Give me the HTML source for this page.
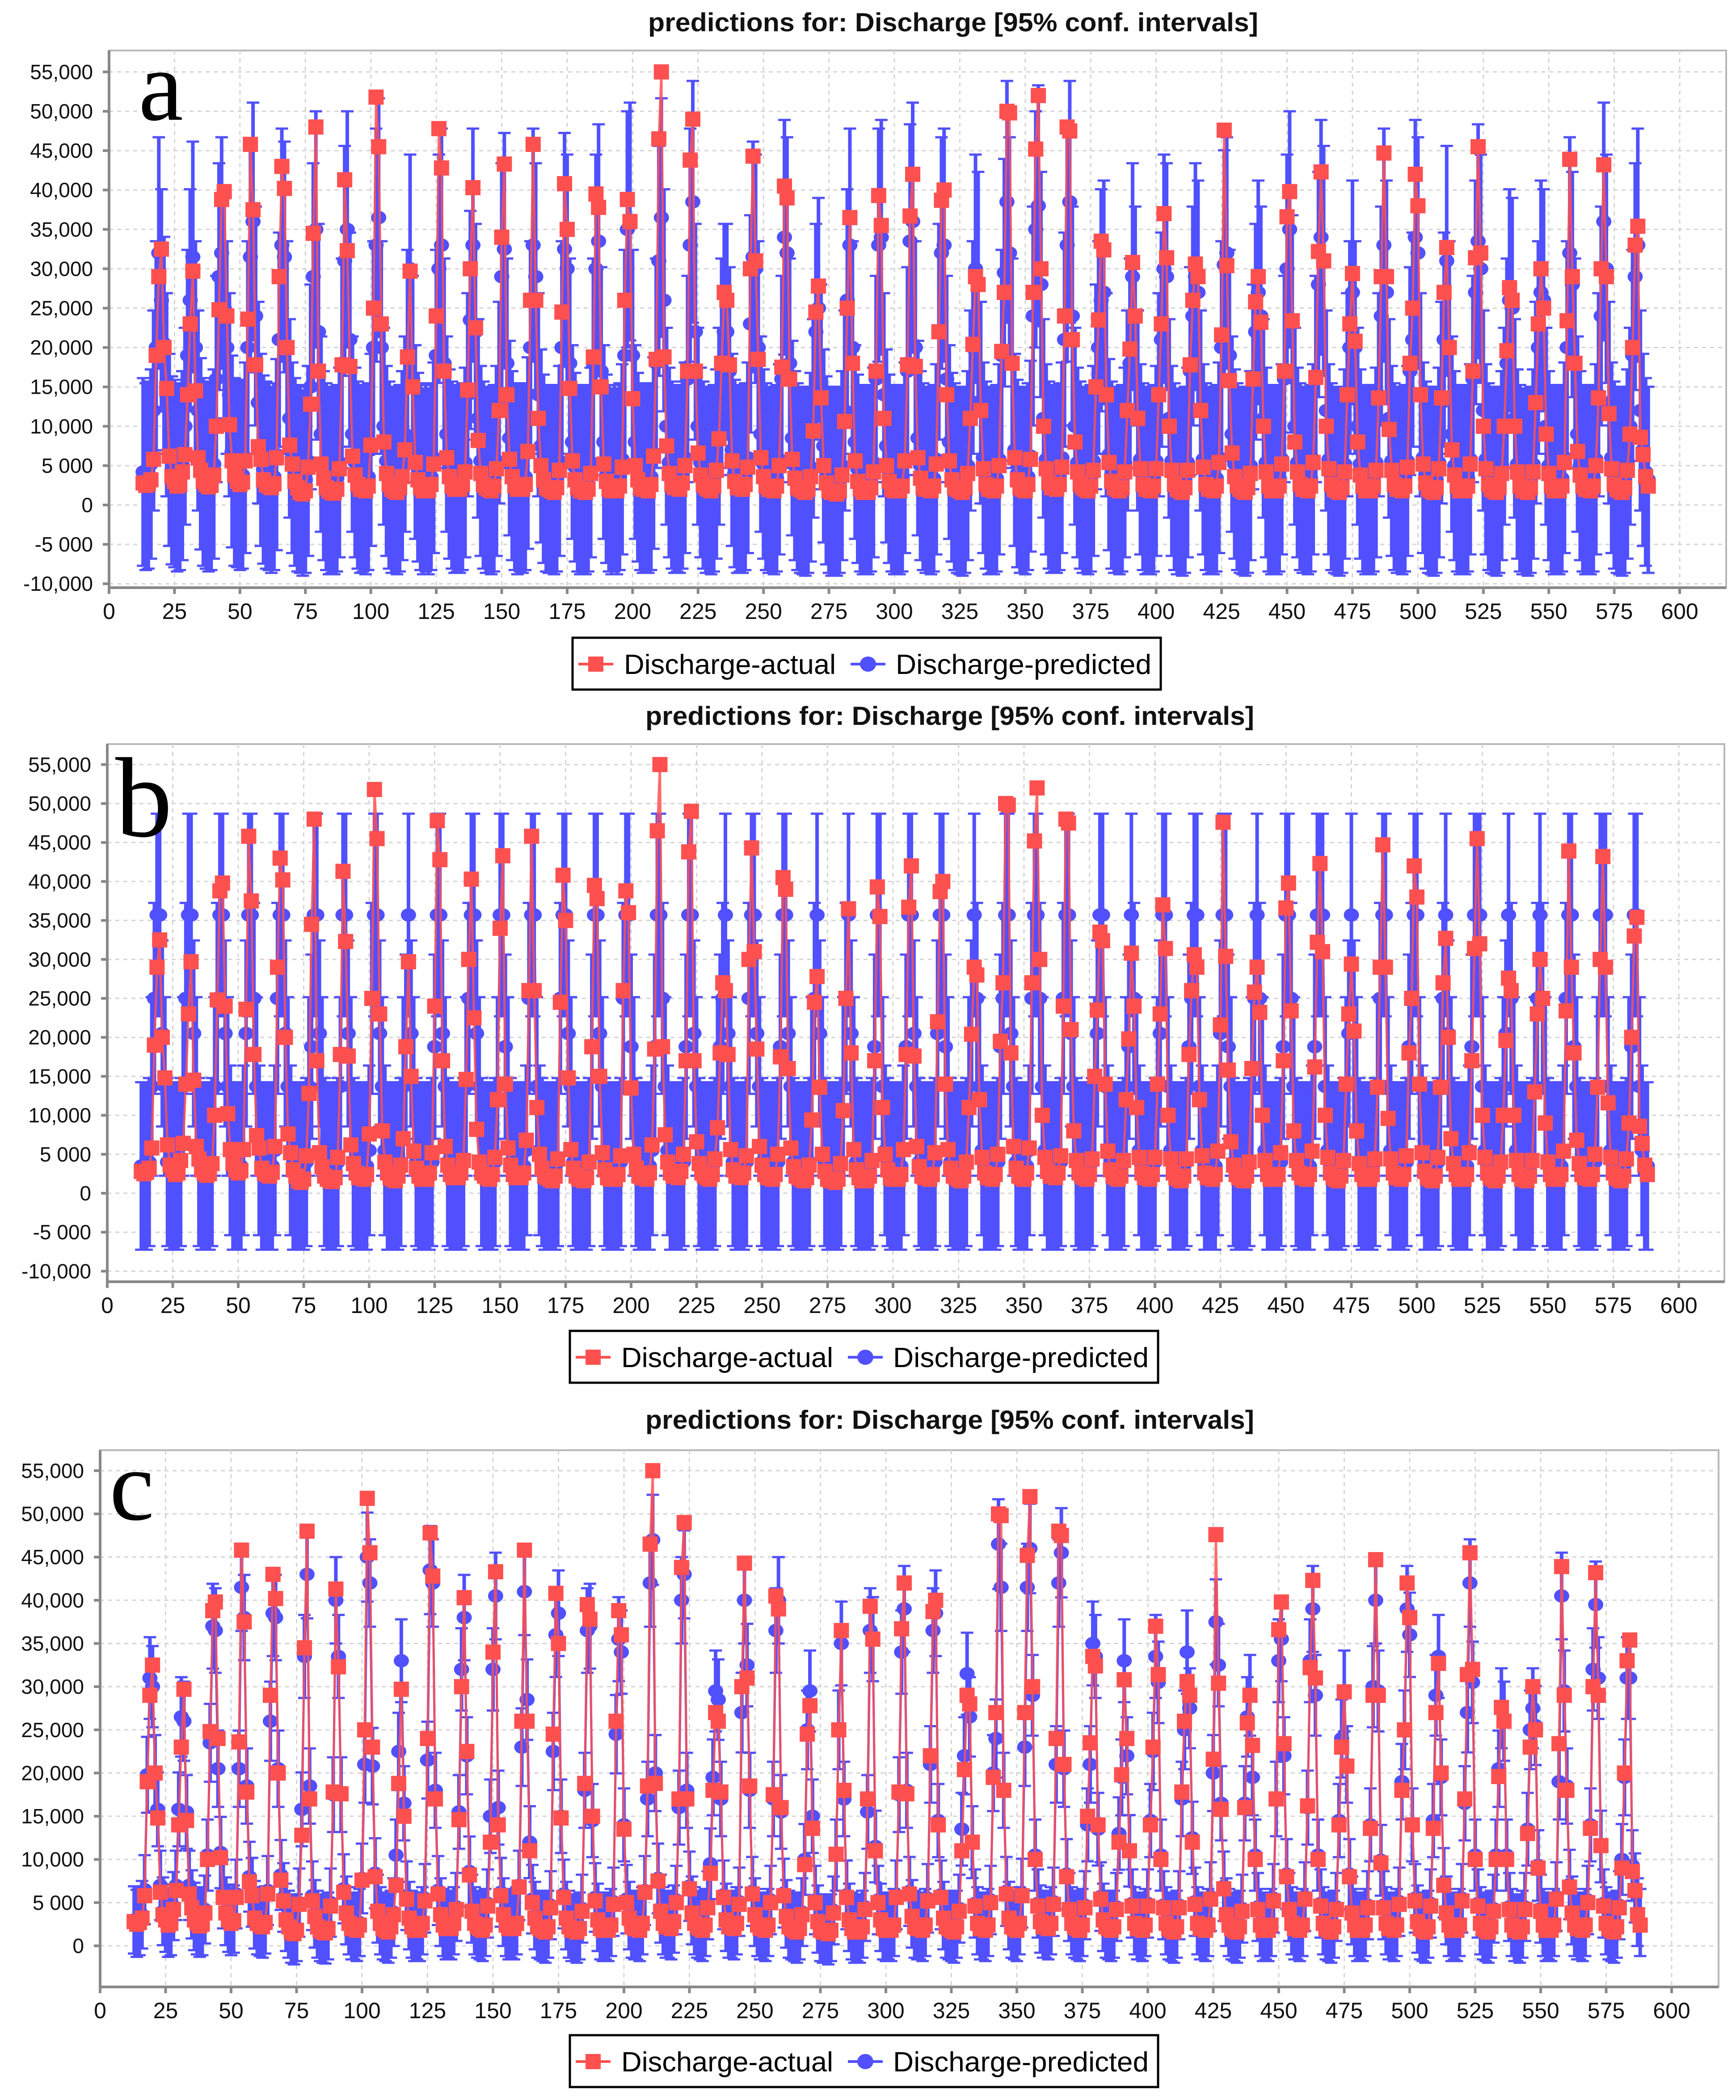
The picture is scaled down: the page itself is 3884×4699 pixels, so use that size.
<!DOCTYPE html>
<html><head><meta charset="utf-8"><title>Discharge predictions</title>
<style>html,body{margin:0;padding:0;background:#fff}svg{display:block}</style></head>
<body>
<svg id="chart" xmlns="http://www.w3.org/2000/svg" width="3884" height="4699" viewBox="0 0 3884 4699" font-family="Liberation Sans, sans-serif"></svg>
<script>
// Discharge values in thousands, months 13..588 (48 years x 12 months)
const actualK = [
2.8,2.5,2.7,3.2,5.8,19.0,29.0,32.5,20.0,14.8,6.2,3.6,
3.0,2.4,2.6,4.2,6.4,14.0,23.0,29.7,14.5,6.0,4.4,3.0,
2.6,2.3,2.5,3.8,10.0,24.8,38.8,39.8,24.0,10.2,5.6,3.8,
3.0,2.6,2.9,5.6,23.6,45.8,37.5,17.8,7.4,5.8,3.2,2.6,
2.4,2.2,2.7,6.0,29.0,43.0,40.2,20.0,7.6,5.2,3.0,2.2,
1.6,1.4,1.8,4.8,12.8,34.5,48.0,17.0,5.2,3.4,2.2,1.8,
1.6,1.5,2.0,4.6,17.8,41.3,32.3,17.6,6.2,3.8,2.6,2.0,
2.0,1.8,2.4,7.6,25.0,51.8,45.5,23.0,8.0,4.0,2.6,2.0,
1.8,1.6,2.2,3.6,7.0,18.8,29.7,15.0,5.4,3.2,2.2,1.8,
2.0,1.8,2.6,5.2,24.0,47.8,42.8,17.0,6.0,3.6,2.4,2.0,
2.2,2.0,2.6,4.2,14.6,30.0,40.3,22.5,8.2,4.0,2.6,2.2,
2.0,1.8,2.4,4.6,12.0,34.0,43.3,14.0,5.8,3.6,2.4,2.0,
2.2,2.0,2.6,6.8,26.0,45.8,26.0,11.0,5.0,3.2,2.2,2.0,
1.8,1.6,2.2,4.4,24.5,40.8,35.0,14.8,5.6,3.2,2.2,1.8,
1.8,1.6,2.0,4.0,18.8,39.5,37.8,15.0,5.2,3.0,2.0,1.8,
2.0,1.8,2.4,4.8,26.0,38.8,36.0,13.5,5.0,3.2,2.2,2.0,
2.0,1.8,2.6,6.2,18.5,46.5,55.0,18.8,7.5,4.0,2.6,2.2,
2.2,2.0,2.8,5.0,17.0,43.8,49.0,17.0,6.6,3.8,2.6,2.2,
2.0,1.8,2.4,4.4,8.4,18.0,27.0,26.0,17.8,5.6,3.0,2.2,
2.2,2.0,2.6,4.8,30.0,44.3,31.0,18.5,6.0,3.6,2.4,2.0,
2.0,1.8,2.4,5.0,17.5,40.5,39.0,16.0,5.8,3.4,2.2,2.0,
1.8,1.6,2.0,3.6,9.4,24.5,27.8,13.6,5.0,2.8,1.8,1.6,
1.6,1.4,1.8,3.8,10.6,25.0,36.5,18.0,5.6,3.0,2.0,1.6,
1.8,1.6,2.2,4.2,17.0,39.3,35.5,11.0,5.0,3.0,2.0,1.8,
2.0,1.8,2.4,5.6,17.8,36.7,42.0,17.6,6.0,3.4,2.2,2.0,
2.0,1.8,2.4,5.2,22.0,38.7,40.0,14.0,5.6,3.2,2.2,2.0,
1.8,1.6,2.2,4.0,11.0,20.4,29.0,28.0,12.0,4.6,2.6,2.0,
2.0,1.8,2.4,5.0,19.5,27.0,50.0,49.8,18.0,6.0,3.2,2.2,
2.0,1.8,2.6,5.8,27.0,45.2,52.0,30.0,10.0,4.6,2.8,2.2,
2.2,2.0,2.6,4.8,24.0,48.0,47.5,21.0,8.0,4.2,2.6,2.2,
2.0,1.8,2.4,4.4,15.0,23.5,33.5,32.4,14.0,5.4,3.0,2.2,
2.0,1.8,2.2,4.2,12.0,19.8,30.8,24.0,11.0,4.6,2.6,2.0,
2.0,1.8,2.4,4.6,14.0,23.0,37.0,31.4,10.0,4.4,2.6,2.0,
1.8,1.6,2.2,4.4,17.8,26.0,30.6,29.0,12.0,4.8,2.6,2.0,
2.0,1.8,2.4,5.4,21.6,47.6,30.4,15.8,6.6,3.6,2.4,2.0,
1.8,1.6,2.2,4.0,16.0,25.8,29.0,23.2,10.0,4.2,2.4,1.8,
2.0,1.8,2.4,5.2,17.0,36.6,39.8,23.4,8.0,4.2,2.6,2.0,
2.0,1.8,2.4,5.4,16.2,32.2,42.3,31.0,10.0,4.6,2.6,2.0,
1.8,1.6,2.2,4.2,14.0,23.0,29.4,20.8,8.0,3.8,2.4,1.8,
2.0,1.8,2.4,4.4,13.6,29.0,44.7,29.0,9.6,4.4,2.6,2.0,
2.0,1.8,2.4,4.8,18.0,25.0,42.0,38.0,14.0,5.2,2.8,2.0,
1.8,1.6,2.2,4.6,13.6,27.0,32.7,20.0,7.0,3.8,2.4,1.8,
2.0,1.8,2.4,5.2,17.0,31.4,45.5,32.0,10.0,4.6,2.6,2.0,
1.8,1.6,2.2,4.0,10.0,19.6,27.6,26.0,10.0,4.2,2.4,1.8,
1.8,1.6,2.2,4.2,13.0,23.0,30.0,25.0,9.0,4.0,2.4,1.8,
2.0,1.8,2.4,5.4,23.4,43.9,29.0,18.0,6.8,3.8,2.4,2.0,
2.0,1.8,2.4,5.0,13.6,30.0,43.2,29.0,11.6,4.6,2.6,2.0,
1.8,1.6,2.2,4.4,9.0,20.0,33.0,35.4,8.6,6.4,3.6,2.4];

const predAK = [
4.2,3.6,3.8,5.2,12,20,32,26,20.5,14,7,4.4,
4.0,3.4,3.6,5.0,10,19,26,31.5,20,12,6.5,4.2,
3.8,3.4,3.6,5.2,16,29,32,25,20,14,6.8,4.2,
4.0,3.6,3.8,6.0,20,31.5,36,24,13,7,4.5,3.8,
3.6,3.2,3.6,6.4,21,33,31.5,20,11,6,4.2,3.4,
3.2,2.8,3.2,5.6,15,29,35,22,9,5,3.6,3.0,
3.2,3.0,3.4,5.4,18,31,35,21,9,5.4,3.8,3.2,
3.4,3.0,3.6,7.0,20,33,36.5,20,10,5.6,3.8,3.2,
3.2,3.0,3.4,5.0,9,19,30,16,8,4.8,3.6,3.0,
3.4,3.0,3.6,6.0,19,30,33,18,9,5.2,3.8,3.2,
3.4,3.2,3.6,5.4,14,23.5,33,22,11,5.6,3.8,3.2,
3.2,3.0,3.4,5.6,13,29,32.5,18,8.5,5,3.6,3.0,
3.4,3.2,3.6,6.6,20,33,29,14,7.5,4.6,3.4,3.2,
3.2,3.0,3.4,5.6,20,32.5,30,18,8,4.8,3.4,3.0,
3.2,3.0,3.4,5.4,18,30,33.5,17,8,4.6,3.4,3.0,
3.4,3.0,3.6,5.8,19,35,36,19,8,4.8,3.6,3.2,
3.4,3.2,3.6,6.6,18,31,36.5,26,10,5.4,3.8,3.2,
3.4,3.2,3.8,6.0,16,33,38.5,22,10,5.4,3.8,3.2,
3.2,3.0,3.4,5.2,10,18,22,22,17,7,4,3.2,
3.4,3.2,3.6,6.0,23,31.5,30,20,9,5.2,3.6,3.2,
3.2,3.0,3.4,5.8,16,34,32,18,8.5,5,3.6,3.2,
3.0,2.8,3.2,4.8,11,22,25,15,7.5,4.4,3.2,2.8,
3.0,2.8,3.2,5.0,12,26,33,20,8,4.6,3.4,3.0,
3.2,3.0,3.4,5.4,16,33,34,14,7.5,4.6,3.4,3.0,
3.2,3.0,3.4,6.0,17,33.5,36,20,8.5,5,3.6,3.2,
3.2,3.0,3.4,5.8,22,32,33,16,8,4.8,3.6,3.2,
3.0,2.8,3.2,5.0,12,20,30,28,13,6,3.8,3.0,
3.2,3.0,3.4,5.8,19,29.5,38.5,32,18,7,4,3.2,
3.2,3.0,3.6,6.2,24,35,38,28,11,5.8,3.8,3.2,
3.4,3.2,3.6,6.0,21,33,38.5,24,10,5.4,3.8,3.2,
3.2,3.0,3.4,5.6,15,20,26,27,14,6.4,3.8,3.2,
3.2,3.0,3.4,5.4,12,18,29,24,12,5.8,3.6,3.0,
3.2,3.0,3.4,5.6,14,21,30,29,11,5.6,3.6,3.0,
3.0,2.8,3.2,5.4,17,24,29,27,12,5.8,3.6,3.0,
3.2,3.0,3.4,6.0,20,30.5,32,19,9,5.2,3.6,3.2,
3.0,2.8,3.2,5.0,15,22,27,24,11,5.4,3.4,3.0,
3.2,3.0,3.4,5.8,16,30,35,23,10,5.4,3.6,3.2,
3.2,3.0,3.4,5.8,16,28,34,31,12,5.8,3.6,3.2,
3.0,2.8,3.2,5.2,14,20,27,20,10,5.2,3.4,3.0,
3.2,3.0,3.4,5.4,14,24,33,27,11,5.6,3.6,3.2,
3.2,3.0,3.4,5.6,17,21,34,32,14,6,3.8,3.2,
3.0,2.8,3.2,5.4,13,21,31,20,9,5,3.4,3.0,
3.2,3.0,3.4,5.8,16,27,33.5,30,12,5.8,3.6,3.2,
3.0,2.8,3.2,5.0,10,18,26,25,11,5.2,3.4,3.0,
3.0,2.8,3.2,5.2,13,20,27,26,10,5,3.4,3.0,
3.2,3.0,3.4,6.0,20,32,28,18,9,5,3.4,3.0,
3.2,3.0,3.4,5.8,14,24,36,30,13,6,3.8,3.2,
3.0,2.8,3.2,5.2,10,19,29,33,12,7,4.2,3.2];

const predBK = [
3.5,3.5,3.5,4,13.7,25,35.7,35.7,20.5,13.7,4,3.5,
3.5,3.5,3.5,4,13.7,25,35.7,35.7,20.5,13.7,4,3.5,
3.5,3.5,3.5,4,13.7,25,35.7,35.7,20.5,13.7,5.5,3.5,
3.5,3.5,3.5,5.5,20.5,35.7,35.7,25,13.7,5.5,3.5,3.5,
3.5,3.5,3.5,5.5,25,35.7,35.7,20.5,13.7,5.5,3.5,3.5,
3.5,3.5,3.5,4,13.7,18.8,35.7,35.7,20.5,13.7,4,3.5,
3.5,3.5,3.5,4,13.7,35.7,35.7,20.5,13.7,4,3.5,3.5,
3.5,3.5,3.5,5.5,25,35.7,35.7,20.5,13.7,5.5,3.5,3.5,
3.5,3.5,3.5,4,13.7,18.8,35.7,20.5,13.7,4,3.5,3.5,
3.5,3.5,3.5,4,18.8,35.7,35.7,20.5,13.7,4,3.5,3.5,
3.5,3.5,3.5,4,13.7,25,35.7,35.7,20.5,13.7,4,3.5,
3.5,3.5,3.5,4,13.7,35.7,35.7,18.8,13.7,4,3.5,3.5,
3.5,3.5,3.5,5.5,25,35.7,35.7,13.7,5.5,4,3.5,3.5,
3.5,3.5,3.5,4,25,35.7,35.7,20.5,13.7,4,3.5,3.5,
3.5,3.5,3.5,4,18.8,35.7,35.7,20.5,13.7,4,3.5,3.5,
3.5,3.5,3.5,4,25,35.7,35.7,18.8,13.7,4,3.5,3.5,
3.5,3.5,3.5,5.5,18.8,35.7,35.7,25,13.7,5.5,3.5,3.5,
3.5,3.5,3.5,4,18.8,35.7,35.7,20.5,13.7,4,3.5,3.5,
3.5,3.5,3.5,4,13.7,18.8,25,35.7,20.5,13.7,4,3.5,
3.5,3.5,3.5,4,25,35.7,35.7,20.5,13.7,4,3.5,3.5,
3.5,3.5,3.5,4,18.8,35.7,35.7,20.5,13.7,4,3.5,3.5,
3.5,3.5,3.5,4,13.7,25,35.7,20.5,13.7,4,3.5,3.5,
3.5,3.5,3.5,4,13.7,25,35.7,20.5,13.7,4,3.5,3.5,
3.5,3.5,3.5,4,18.8,35.7,35.7,13.7,5.5,4,3.5,3.5,
3.5,3.5,3.5,5.5,18.8,35.7,35.7,20.5,13.7,4,3.5,3.5,
3.5,3.5,3.5,4,20.5,35.7,35.7,18.8,13.7,4,3.5,3.5,
3.5,3.5,3.5,4,13.7,20.5,35.7,25,13.7,5.5,3.5,3.5,
3.5,3.5,3.5,4,18.8,25,35.7,35.7,20.5,13.7,4,3.5,
3.5,3.5,3.5,5.5,25,35.7,35.7,25,13.7,5.5,3.5,3.5,
3.5,3.5,3.5,4,25,35.7,35.7,20.5,13.7,4,3.5,3.5,
3.5,3.5,3.5,4,13.7,20.5,35.7,35.7,13.7,5.5,3.5,3.5,
3.5,3.5,3.5,4,13.7,18.8,35.7,25,13.7,5.5,3.5,3.5,
3.5,3.5,3.5,4,13.7,20.5,35.7,35.7,13.7,5.5,3.5,3.5,
3.5,3.5,3.5,4,18.8,25,35.7,35.7,13.7,5.5,3.5,3.5,
3.5,3.5,3.5,5.5,20.5,35.7,35.7,18.8,13.7,4,3.5,3.5,
3.5,3.5,3.5,4,13.7,25,35.7,25,13.7,5.5,3.5,3.5,
3.5,3.5,3.5,4,18.8,35.7,35.7,25,13.7,4,3.5,3.5,
3.5,3.5,3.5,5.5,18.8,35.7,35.7,35.7,13.7,5.5,3.5,3.5,
3.5,3.5,3.5,4,13.7,20.5,35.7,20.5,13.7,4,3.5,3.5,
3.5,3.5,3.5,4,13.7,25,35.7,35.7,13.7,5.5,3.5,3.5,
3.5,3.5,3.5,4,18.8,25,35.7,35.7,13.7,5.5,3.5,3.5,
3.5,3.5,3.5,4,13.7,25,35.7,20.5,13.7,4,3.5,3.5,
3.5,3.5,3.5,5.5,18.8,35.7,35.7,35.7,13.7,5.5,3.5,3.5,
3.5,3.5,3.5,4,13.7,20.5,35.7,25,13.7,5.5,3.5,3.5,
3.5,3.5,3.5,4,13.7,25,35.7,25,13.7,4,3.5,3.5,
3.5,3.5,3.5,5.5,25,35.7,35.7,18.8,13.7,4,3.5,3.5,
3.5,3.5,3.5,4,13.7,35.7,35.7,35.7,13.7,5.5,3.5,3.5,
3.5,3.5,3.5,4,13.7,18.8,35.7,35.7,13.7,5.5,3.5,3.5];

const predCK = [
3.0,2.6,2.8,3.6,6.5,19.8,31,30,20,15.8,7,4,
3.2,2.6,2.8,4.6,7,15.8,26.5,26,15.5,7,4.8,3.4,
2.9,2.6,2.8,4.2,10.5,23.5,37,36.5,20.5,10.8,6,4,
3.2,2.8,3.1,6,20.5,41.5,38,18.5,8,6.2,3.6,2.9,
2.7,2.5,3,6.4,26,38.5,38,20.5,8.2,5.6,3.3,2.5,
1.9,1.7,2.1,5,15.8,33.5,43,18.5,5.8,3.7,2.5,2.1,
1.9,1.8,2.3,5,17.5,40,33.5,17.5,6.6,4.1,2.9,2.3,
2.3,2.1,2.7,7.8,21,45,42,20.8,8.4,4.3,2.9,2.3,
2.1,1.9,2.5,3.9,10.5,22.5,33,16.5,5.8,3.5,2.5,2.1,
2.3,2.1,2.9,5.5,21.5,43.5,42,18,6.4,3.9,2.7,2.3,
2.5,2.3,2.9,4.5,15.5,32,38,22,8.6,4.3,2.9,2.5,
2.3,2.1,2.7,4.9,15,32,40.5,16,6.2,3.9,2.7,2.3,
2.5,2.3,2.9,7,23,41,28.5,12,5.4,3.5,2.5,2.3,
2.1,1.9,2.5,4.7,22.5,36,38.5,15,6,3.5,2.5,2.1,
2.1,1.9,2.3,4.3,18,36.5,37,14.5,5.6,3.3,2.3,2.1,
2.3,2.1,2.7,5.1,24.5,35.5,34,14,5.4,3.5,2.5,2.3,
2.3,2.1,2.9,6.4,17,42,47,20,7.8,4.3,2.9,2.5,
2.5,2.3,3.1,5.3,16,40,43,18,6.9,4.1,2.9,2.5,
2.3,2.1,2.7,4.7,9.5,19.5,29.5,28.5,17,5.9,3.3,2.5,
2.5,2.3,2.9,5.1,27,40,32.5,18,6.3,3.9,2.7,2.3,
2.3,2.1,2.7,5.3,17,36.5,40,15.5,6.1,3.7,2.5,2.3,
2.1,1.9,2.3,3.9,10,25,29.5,15,5.3,3.1,2.1,1.9,
1.9,1.7,2.1,4.1,10.5,25,35,17,5.9,3.3,2.3,1.9,
2.1,1.9,2.5,4.5,15.5,36.5,35.5,11.5,5.3,3.3,2.3,2.1,
2.3,2.1,2.7,5.9,17.5,34,39,18,6.3,3.7,2.5,2.3,
2.3,2.1,2.7,5.5,21,36.5,38.5,14.5,5.9,3.5,2.5,2.3,
2.1,1.9,2.5,4.3,13.5,22,31.5,26.5,12,4.9,2.9,2.3,
2.3,2.1,2.7,5.3,20,24,46.5,41.5,18,6.3,3.5,2.5,
2.3,2.1,2.9,6.1,23,41.5,46,29,10.5,4.9,3.1,2.5,
2.5,2.3,2.9,5.1,21,42,45.5,20.5,8.3,4.5,2.9,2.5,
2.3,2.1,2.7,4.7,14,21,35,33.5,13.5,5.7,3.3,2.5,
2.3,2.1,2.5,4.5,13,19.5,33,22,11,4.9,2.9,2.3,
2.3,2.1,2.7,4.9,14.5,22.5,33.5,30.5,10.5,4.7,2.9,2.3,
2.1,1.9,2.5,4.7,17,25,34,27.5,12.5,5.1,2.9,2.3,
2.3,2.1,2.7,5.7,20,37.5,32.5,16.5,6.9,3.9,2.7,2.3,
2.1,1.9,2.5,4.3,16.5,26.5,29,19.5,10.5,4.5,2.7,2.1,
2.3,2.1,2.7,5.5,17,33,35.5,22,8.3,4.5,2.9,2.3,
2.3,2.1,2.7,5.7,16,33,39,29,10.5,4.9,2.9,2.3,
2.1,1.9,2.5,4.5,14.5,24,29.5,21,8.3,4.1,2.7,2.1,
2.3,2.1,2.7,4.7,14,30,40,29.5,9.9,4.7,2.9,2.3,
2.3,2.1,2.7,5.1,19,25,39,36,14,5.5,3.1,2.3,
2.1,1.9,2.5,4.9,14.5,29,33.5,19.5,7.3,4.1,2.7,2.1,
2.3,2.1,2.7,5.5,16.5,27,42,30.5,10.5,4.9,2.9,2.3,
2.1,1.9,2.5,4.3,10.5,20.5,27.5,26,10.5,4.5,2.7,2.1,
2.1,1.9,2.5,4.5,13.5,25,27.5,25.5,9.3,4.3,2.7,2.1,
2.3,2.1,2.7,5.7,19,40.5,29.5,18.5,7.1,4.1,2.7,2.3,
2.3,2.1,2.7,5.3,14,32,39.5,31,11.5,4.9,2.9,2.3,
2.1,1.9,2.5,4.7,10,19.5,31,31,9.3,6.7,3.9,2.7];

const firstMonth = 13;
const xTicks = [0,25,50,75,100,125,150,175,200,225,250,275,300,325,350,375,400,425,450,475,500,525,550,575,600];
const yTicksAB = [-10,-5,0,5,10,15,20,25,30,35,40,45,50,55];
const yTicksC = [0,5,10,15,20,25,30,35,40,45,50,55];
// confidence interval half-width model per panel: [base (k), fraction of prediction]
const ciA = [11.5, 0.10];
const ciB = [10.5, 0.07];
const ciC = [3.8, 0.03];

const NS = 'http://www.w3.org/2000/svg';
const svg = document.getElementById('chart');
function el(tag, attrs, parent) {
  const e = document.createElementNS(NS, tag);
  for (const k in attrs) e.setAttribute(k, attrs[k]);
  (parent || svg).appendChild(e);
  return e;
}
function fmt(v) {
  if (v === 0) return '0';
  if (Math.abs(v) === 5) return (v < 0 ? '-' : '') + '5 000';
  const n = Math.abs(v) * 1000;
  return (v < 0 ? '-' : '') + n.toLocaleString('en-US');
}

const RED = '#ff5050', BLUE = '#5050ff';

function drawPanel(p) {
  const g = el('g', {});
  
  
  const xs = v => p.x0 + (v / 600) * (p.x600 - p.x0);
  const ys = v => p.y0 - v * p.pk;

  const t = el('text', {x: p.tx, y: p.ty, 'font-size': 58, 'font-weight': 'bold', textLength: p.tw, lengthAdjust: 'spacingAndGlyphs', fill: '#111'}, g);
  t.textContent = 'predictions for: Discharge [95% conf. intervals]';
  
  

  const bg = el('rect', {x: p.left, y: p.top, width: p.right - p.left, height: p.bottom - p.top, fill: '#fff', stroke: '#b8b8b8', 'stroke-width': 4}, g);
  
  

  const grid = el('g', {stroke: '#d4d4d4', 'stroke-width': 3, 'stroke-dasharray': '9 9'}, g);
  
  
  p.yt.forEach(v => el('line', {x1: p.left, x2: p.right, y1: ys(v), y2: ys(v)}, grid));
  xTicks.forEach(v => { if (v > 0) el('line', {x1: xs(v), x2: xs(v), y1: p.top, y2: p.bottom}, grid); });

  const ax = el('g', {stroke: '#888', 'stroke-width': 6}, g);
  
  
  el('line', {x1: p.left, x2: p.left, y1: p.top, y2: p.bottom + 3}, ax);
  el('line', {x1: p.left - 3, x2: p.right, y1: p.bottom, y2: p.bottom}, ax);
  p.yt.forEach(v => el('line', {x1: p.left - 14, x2: p.left, y1: ys(v), y2: ys(v)}, ax));
  xTicks.forEach(v => el('line', {x1: xs(v), x2: xs(v), y1: p.bottom, y2: p.bottom + 14}, ax));

  const yl = el('g', {'font-size': 46, 'text-anchor': 'end', fill: '#111'}, g);
  
  
  p.yt.forEach(v => { const tt = el('text', {x: p.left - 36, y: ys(v) + 16}, yl); tt.textContent = fmt(v); });
  const xl = el('g', {'font-size': 50, 'text-anchor': 'middle', fill: '#111'}, g);
  
  
  xTicks.forEach(v => { const tt = el('text', {x: xs(v), y: p.bottom + 70}, xl); tt.textContent = v; });

  let eb = '', caps = '';
  p.pred.forEach((v, i) => {
    const x = xs(firstMonth + i);
    const h = p.ci[0] + p.ci[1] * v;
    const yh = ys(v + h), yl2 = ys(v - h);
    eb += `M${x},${yh}V${yl2}`;
    caps += `M${x - 14},${yh}h28M${x - 14},${yl2}h28`;
  });
  const ebp = el('path', {d: eb, stroke: BLUE, 'stroke-width': 8, fill: 'none'}, g);
  
  
  const cp = el('path', {d: caps, stroke: BLUE, 'stroke-width': 5, fill: 'none'}, g);
  
  

  const pl = el('path', {d: p.pred.map((v, i) => (i ? 'L' : 'M') + xs(firstMonth + i) + ',' + ys(v)).join(''), stroke: BLUE, 'stroke-width': 5, fill: 'none'}, g);
  
  
  const pm = el('g', {fill: BLUE}, g);
  
  
  p.pred.forEach((v, i) => {
    const c = el('ellipse', {cx: xs(firstMonth + i), cy: ys(v), rx: 17, ry: 15}, pm);
    
    
  });

  const al = el('path', {d: actualK.map((v, i) => (i ? 'L' : 'M') + xs(firstMonth + i) + ',' + ys(v)).join(''), stroke: RED, 'stroke-width': 5, fill: 'none', 'stroke-opacity': 0.85}, g);
  
  
  const am = el('g', {fill: RED}, g);
  
  
  actualK.forEach((v, i) => {
    const r = el('rect', {x: xs(firstMonth + i) - 17, y: ys(v) - 17, width: 34, height: 34}, am);
    
    
  });

  const L = el('text', {x: p.lx, y: p.ly, 'font-size': p.lf, 'font-family': 'Liberation Serif, serif', fill: '#000'}, g);
  L.textContent = p.letter;
  
  

  const lg = el('g', {}, g);
  
  
  el('rect', {x: p.gx, y: p.gy, width: 1316, height: 116, fill: '#fff', stroke: '#000', 'stroke-width': 5}, lg);
  const cy = p.gy + 59;
  const e1 = el('g', {}, lg);
  
  
  el('line', {x1: p.gx + 13, x2: p.gx + 91, y1: cy, y2: cy, stroke: RED, 'stroke-width': 6}, e1);
  el('rect', {x: p.gx + 35, y: cy - 17, width: 34, height: 34, fill: RED}, e1);
  const t1 = el('text', {x: p.gx + 115, y: cy + 22, 'font-size': 62, textLength: 474, lengthAdjust: 'spacingAndGlyphs', fill: '#000'}, e1);
  t1.textContent = 'Discharge-actual';
  const e2 = el('g', {}, lg);
  
  
  el('line', {x1: p.gx + 622, x2: p.gx + 700, y1: cy, y2: cy, stroke: BLUE, 'stroke-width': 6}, e2);
  el('ellipse', {cx: p.gx + 661, cy: cy, rx: 18, ry: 17, fill: BLUE}, e2);
  const t2 = el('text', {x: p.gx + 723, y: cy + 22, 'font-size': 62, textLength: 572, lengthAdjust: 'spacingAndGlyphs', fill: '#000'}, e2);
  t2.textContent = 'Discharge-predicted';
}

drawPanel({name: 'panel-a', letter: 'a', pred: predAK, ci: ciA, yt: yTicksAB,
  left: 244, right: 3862, top: 113, bottom: 1315, x0: 244, x600: 3758, y0: 1130, pk: 17.62,
  tx: 1450, ty: 70, tw: 1365, lx: 310, ly: 268, lf: 225, gx: 1281, gy: 1427});
drawPanel({name: 'panel-b', letter: 'b', pred: predBK, ci: ciB, yt: yTicksAB,
  left: 240, right: 3858, top: 1665, bottom: 2868, x0: 240, x600: 3756, y0: 2670, pk: 17.44,
  tx: 1444, ty: 1622, tw: 1362, lx: 258, ly: 1871, lf: 255, gx: 1275, gy: 2978});
drawPanel({name: 'panel-c', letter: 'c', pred: predCK, ci: ciC, yt: yTicksC,
  left: 224, right: 3845, top: 3245, bottom: 4446, x0: 224, x600: 3740, y0: 4354, pk: 19.33,
  tx: 1444, ty: 3197, tw: 1362, lx: 245, ly: 3400, lf: 225, gx: 1275, gy: 4554});
</script>
</body></html>
